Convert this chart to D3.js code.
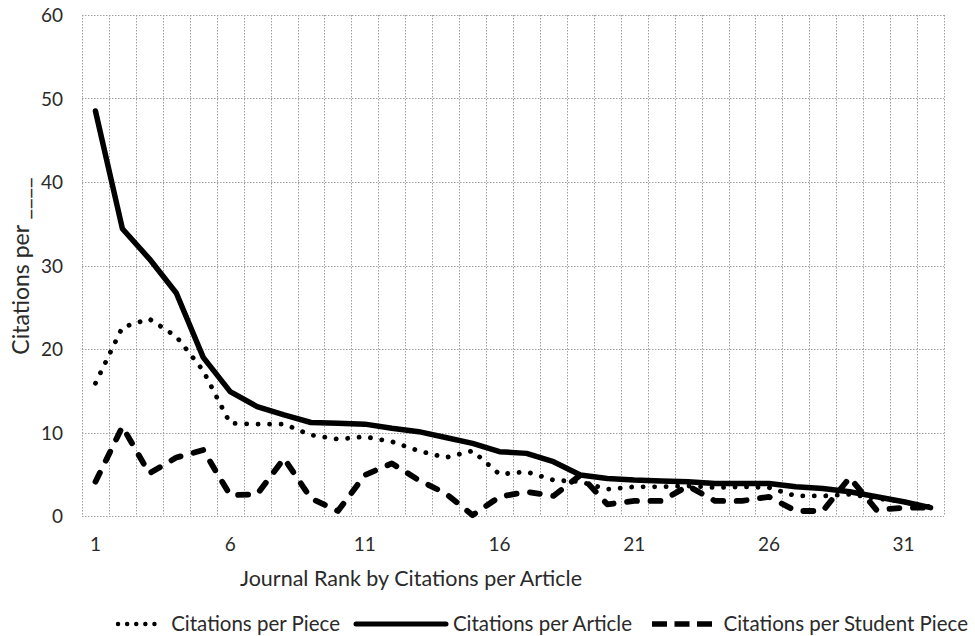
<!DOCTYPE html>
<html>
<head>
<meta charset="utf-8">
<script src="https://cdn.jsdelivr.net/npm/d3@7"></script>
<style>
  html, body { margin: 0; padding: 0; background: #fff; }
  svg text { font-family: Lato, "Open Sans", sans-serif; fill: #2a2a2a; }
</style>
</head>
<body>
<svg id="chart" width="975" height="636"></svg>
<script>
// Journal rank (1 = most cited per article)
const ranks = d3.range(1, 33);

// Citations per piece (all pieces, including student work)
const perPiece = [15.9, 22.6, 23.6, 21.5, 17.4, 11.1, 11.0, 11.0, 9.7, 9.2,
                  9.5, 8.9, 7.8, 7.0, 7.8, 5.0, 5.3, 4.3, 4.1, 3.2,
                  3.5, 3.5, 3.6, 3.4, 3.5, 3.4, 2.4, 2.4, 2.6, 2.1,
                  1.7, 1.1];

// Citations per article
const perArticle = [48.5, 34.4, 30.8, 26.7, 19.0, 14.9, 13.1, 12.1, 11.2, 11.1,
                    11.0, 10.5, 10.1, 9.4, 8.7, 7.7, 7.5, 6.5, 4.9, 4.5,
                    4.3, 4.2, 4.1, 3.9, 3.9, 3.9, 3.5, 3.3, 2.9, 2.3,
                    1.7, 1.0];

// Citations per student piece
const perStudent = [4.1, 10.7, 5.1, 7.0, 7.9, 2.5, 2.6, 6.9, 2.1, 0.6,
                    4.9, 6.3, 4.3, 2.7, 0.1, 2.3, 2.9, 2.4, 4.9, 1.4,
                    1.8, 1.8, 3.6, 1.8, 1.8, 2.3, 0.6, 0.6, 4.6, 0.7,
                    1.0, 1.0];

const xTickLabels = [1, 6, 11, 16, 21, 26, 31];
const yTickValues = [0, 10, 20, 30, 40, 50, 60];

const series = [
  { name: "Citations per Piece",         values: perPiece,   style: "dotted" },
  { name: "Citations per Article",       values: perArticle, style: "solid"  },
  { name: "Citations per Student Piece", values: perStudent, style: "dashed" }
];

const styles = {
  dotted: { width: 4.8, dash: "0.1,11.4" },
  solid:  { width: 5.5, dash: null },
  dashed: { width: 5.8, dash: "10,13.5" }
};

const svg = d3.select("#chart");
const plot = { left: 82, right: 944, top: 15, bottom: 516 };

const x = d3.scaleBand().domain(ranks).range([plot.left, plot.right]).paddingInner(0).paddingOuter(0);
const cx = d => x(d) + x.bandwidth() / 2;
const y = d3.scaleLinear().domain([0, 60]).range([plot.bottom, plot.top]);

// Grid: vertical lines on the category boundaries, horizontal lines at every 10
const grid = svg.append("g").attr("class", "grid")
  .attr("stroke", "#a0a0a0").attr("stroke-width", 1).attr("stroke-dasharray", "1.5,1.5");

const boundaries = ranks.map(r => x(r)).concat([x(ranks[ranks.length - 1]) + x.bandwidth()]);
grid.selectAll("line.v").data(boundaries).join("line")
  .attr("class", "v")
  .attr("x1", d => Math.round(d) + 0.5).attr("x2", d => Math.round(d) + 0.5)
  .attr("y1", y(60)).attr("y2", y(0));

grid.selectAll("line.h").data(yTickValues).join("line")
  .attr("class", "h")
  .attr("x1", plot.left).attr("x2", plot.right)
  .attr("y1", d => Math.round(y(d)) + 0.5).attr("y2", d => Math.round(y(d)) + 0.5);

// Y axis labels
const yAxis = d3.axisLeft(y).tickValues(yTickValues).tickSize(0).tickPadding(0);
const gy = svg.append("g").attr("transform", `translate(${plot.left - 19},0)`).call(yAxis);
gy.select(".domain").remove();
gy.selectAll("text").style("font-size", "19px").attr("fill", "#2a2a2a").attr("dy", "0.35em");

// X axis labels
const xAxis = d3.axisBottom(x).tickValues(xTickLabels).tickSize(0).tickPadding(0);
const gx = svg.append("g").attr("transform", `translate(0,${plot.bottom + 21})`).call(xAxis);
gx.select(".domain").remove();
gx.selectAll("text").style("font-size", "19px").attr("fill", "#2a2a2a").attr("dy", "0.71em");

// Axis titles
svg.append("text")
  .attr("x", 411).attr("y", 586)
  .attr("text-anchor", "middle").style("font-size", "21.5px")
  .text("Journal Rank by Citations per Article");

svg.append("text")
  .attr("transform", "translate(29,266) rotate(-90)")
  .attr("text-anchor", "middle").style("font-size", "23px")
  .text("Citations per ____");

// Series lines
const line = d3.line().x((d, i) => cx(ranks[i])).y(d => y(d));
svg.append("g").selectAll("path").data(series).join("path")
  .attr("d", s => line(s.values))
  .attr("fill", "none")
  .attr("stroke", "#000")
  .attr("stroke-width", s => styles[s.style].width)
  .attr("stroke-dasharray", s => styles[s.style].dash)
  .attr("stroke-linecap", "round")
  .attr("stroke-linejoin", "round");

// Legend: sample line then label, laid out left to right
const legendItems = [
  { x0: 118, x1: 163, textEnd: 340 },
  { x0: 356, x1: 446, textEnd: 632 },
  { x0: 652, x1: 712, textEnd: 968 }
];
const legendStyles = {
  dotted: { width: 4.4, dash: "0.1,9", cap: "round" },
  solid:  { width: 5,   dash: null,    cap: "round" },
  dashed: { width: 5.5, dash: "15,7.5", cap: "butt" }
};
const lg = svg.append("g").attr("class", "legend");
series.forEach((s, i) => {
  const it = legendItems[i];
  const ls = legendStyles[s.style];
  lg.append("line")
    .attr("x1", it.x0).attr("x2", it.x1).attr("y1", 624).attr("y2", 624)
    .attr("stroke", "#000").attr("stroke-width", ls.width)
    .attr("stroke-dasharray", ls.dash).attr("stroke-linecap", ls.cap);
  lg.append("text")
    .attr("x", it.textEnd).attr("y", 624).attr("dy", "0.35em")
    .attr("text-anchor", "end")
    .style("font-size", "20.5px")
    .text(s.name);
});
</script>
</body>
</html>
